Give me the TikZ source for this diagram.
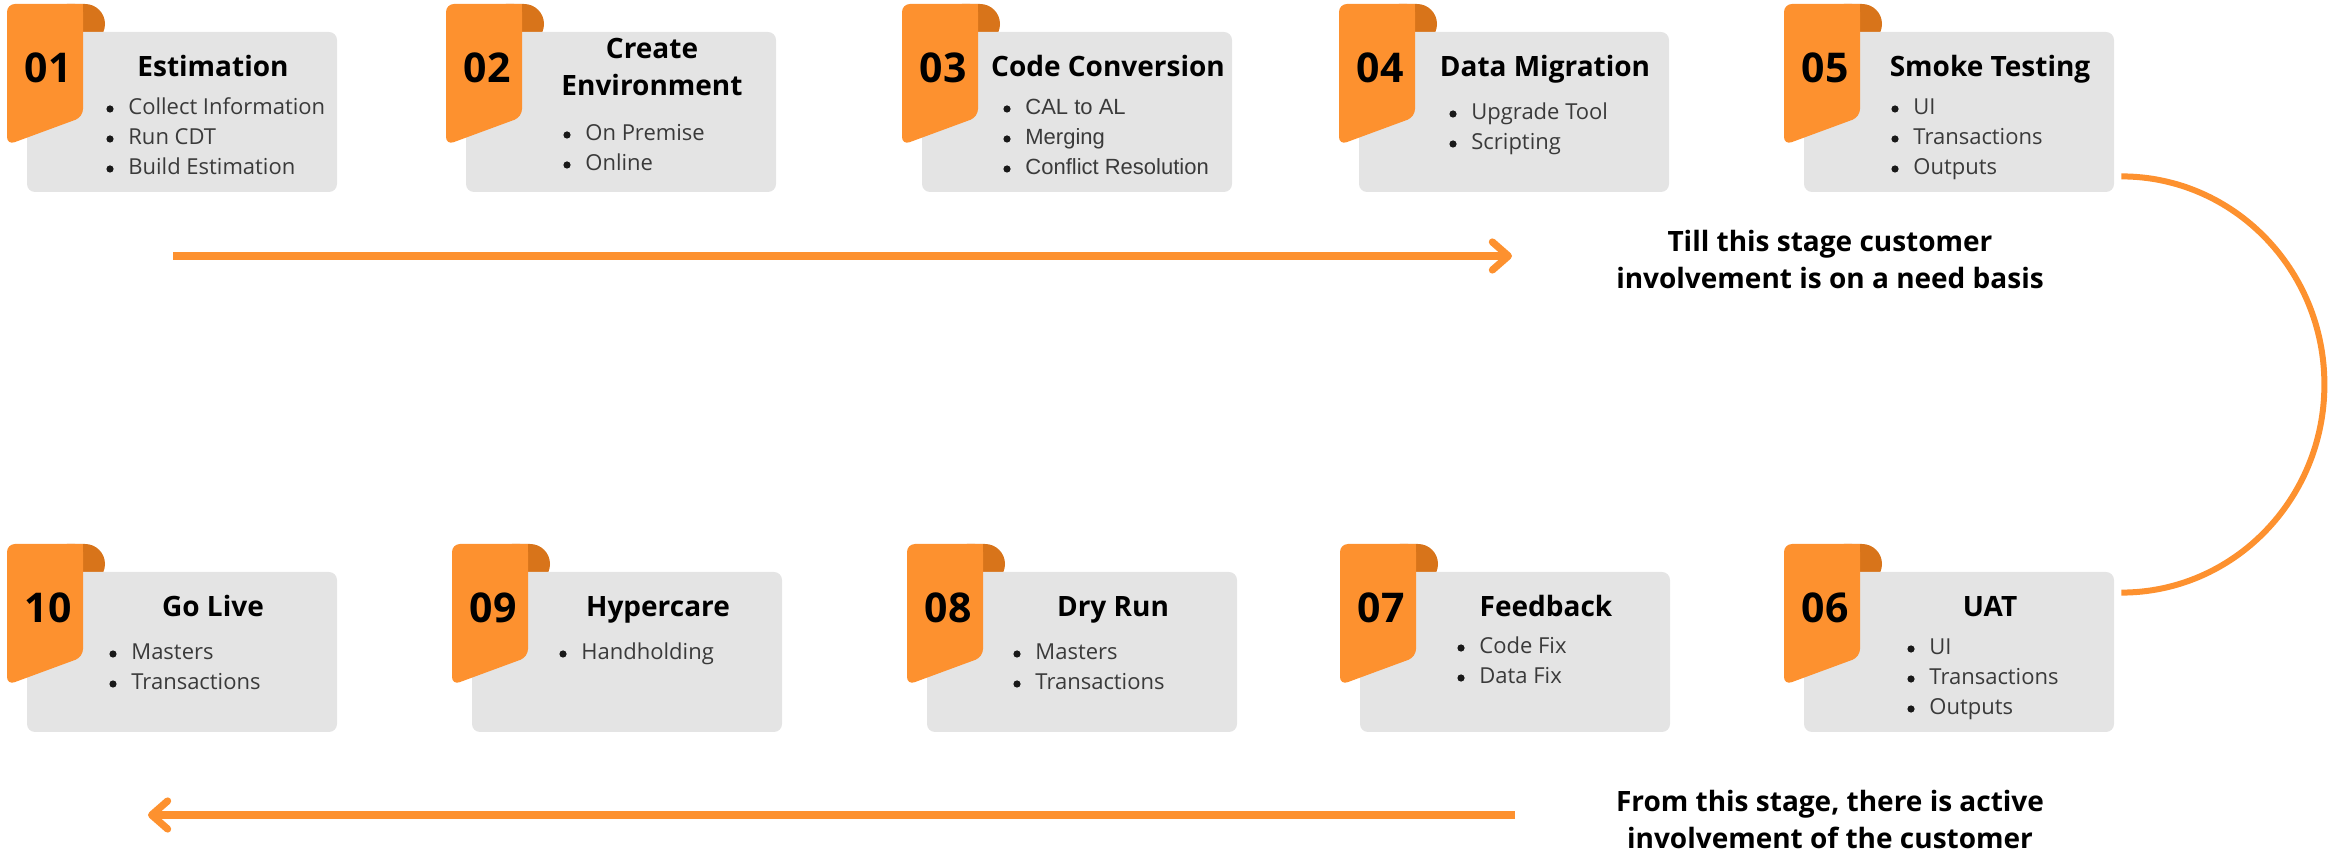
\documentclass[tikz,border=0pt]{standalone}
\usepackage{fontspec}
\setmainfont{Open Sans}
\newfontfamily\arialf{Liberation Sans}
\usetikzlibrary{arrows.meta,calc}

\definecolor{tabor}{HTML}{FD912F}
\definecolor{tabfold}{HTML}{D8741A}
\definecolor{cardbg}{HTML}{E4E4E4}
\definecolor{itemtxt}{HTML}{3A3A3A}

\tikzset{
  cardbox/.style={fill=cardbg, rounded corners=4pt, minimum width=155pt,
    minimum height=80pt, inner sep=0pt, draw=none},
  numtxt/.style={font=\fontsize{20.5}{24}\selectfont\bfseries, inner sep=0pt, anchor=base},
  ttl/.style={font=\fontsize{14}{18.5}\selectfont\bfseries, inner sep=0pt, align=center},
  bul/.style={font=\fontsize{11}{13}\selectfont, text=itemtxt, inner sep=0pt, anchor=base west},
  bularial/.style={bul, font=\arialf\fontsize{11}{13}\selectfont},
  flow/.style={draw=tabor, line width=3.6pt,
    -{Straight Barb[length=8pt,width=14pt,round]}},
  arcline/.style={draw=tabor, line width=3pt},
  note/.style={font=\fontsize{14}{18.5}\selectfont\bfseries, align=center, inner sep=0pt},
}

% #1 name, #2/#3 top-left of the tab, #4 number, #5 title,
% #6 bullet x offset, #7 first baseline offset, #8 items, #9 item style
\newcommand\stagecard[9]{%
  \fill[tabfold, rounded corners=10pt] (#2+40,#3) rectangle (#2+98,#3+40);
  \node[cardbox] (#1) at (#2+175,#3+108) {};
  \fill[tabor, rounded corners=4pt] (#2,#3) -- (#2+76,#3) -- (#2+76,#3+113)
    -- (#2,#3+141) -- cycle;
  \fill[tabor] (#2+60,#3) rectangle (#2+76,#3+12);
  \node[numtxt] (#1n) at (#2+41,#3+79) {#4};
  \node[ttl, anchor=base] (#1t) at (#2+206,#3+73) {#5};
  \foreach \t [count=\i] in {#8} {
    \fill[black!90] (#2+#6,#3+#7+30*\i-36) circle[radius=3.6];
    \node[#9] (#1b\i) at (#2+#6+18,#3+#7+30*\i-30) {\t};
  }%
}

\begin{document}
\begin{tikzpicture}[x=0.5pt,y=-0.5pt]
\useasboundingbox (0,0) rectangle (2335,854);

% upper row
\stagecard{c01}{7}{4}{01}{Estimation}{103}{111}{Collect Information,Run CDT,Build Estimation}{bul}
\stagecard{c02}{446}{4}{02}{}{121}{137}{On Premise,Online}{bul}
\node[ttl] (c02t2) at (446+206,4+63) {Create\\Environment};
\stagecard{c03}{902}{4}{03}{Code Conversion}{105}{111}{CAL to AL,Merging,Conflict Resolution}{bularial}
\stagecard{c04}{1339}{4}{04}{Data Migration}{114}{116}{Upgrade Tool,Scripting}{bul}
\stagecard{c05}{1784}{4}{05}{Smoke Testing}{111}{111}{UI,Transactions,Outputs}{bul}

% lower row
\stagecard{c10}{7}{544}{10}{Go Live}{106}{116}{Masters,Transactions}{bul}
\stagecard{c09}{452}{544}{09}{Hypercare}{111}{116}{Handholding}{bul}
\stagecard{c08}{907}{544}{08}{Dry Run}{110}{116}{Masters,Transactions}{bul}
\stagecard{c07}{1340}{544}{07}{Feedback}{121}{110}{Code Fix,Data Fix}{bul}
\stagecard{c06}{1784}{544}{06}{UAT}{127}{111}{UI,Transactions,Outputs}{bul}

% flow arrows
\coordinate (a1s) at (173,256);
\coordinate (a1e) at (1512,256);
\draw[flow] (a1s) -- (a1e);

\coordinate (a2s) at (1515,815);
\coordinate (a2e) at (148,815);
\draw[flow] (a2s) -- (a2e);

% turn from stage 05 down to stage 06
\coordinate (arcS) at ($(c05.south east)+(7,-16)$);
\coordinate (arcE) at ($(c06.north east)+(7,21)$);
\coordinate (arcM) at ($(arcS)!0.5!(arcE)+(203,0)$);
\draw[arcline] (arcS) .. controls +(112,0) and +(0,-115) .. (arcM)
  .. controls +(0,115) and +(112,0) .. (arcE);

% notes
\node[note] (n1) at (1830,259.5) {Till this stage customer\\involvement is on a need basis};
\node[note] (n2) at (1830,819.5) {From this stage, there is active\\involvement of the customer};
\end{tikzpicture}
\end{document}
